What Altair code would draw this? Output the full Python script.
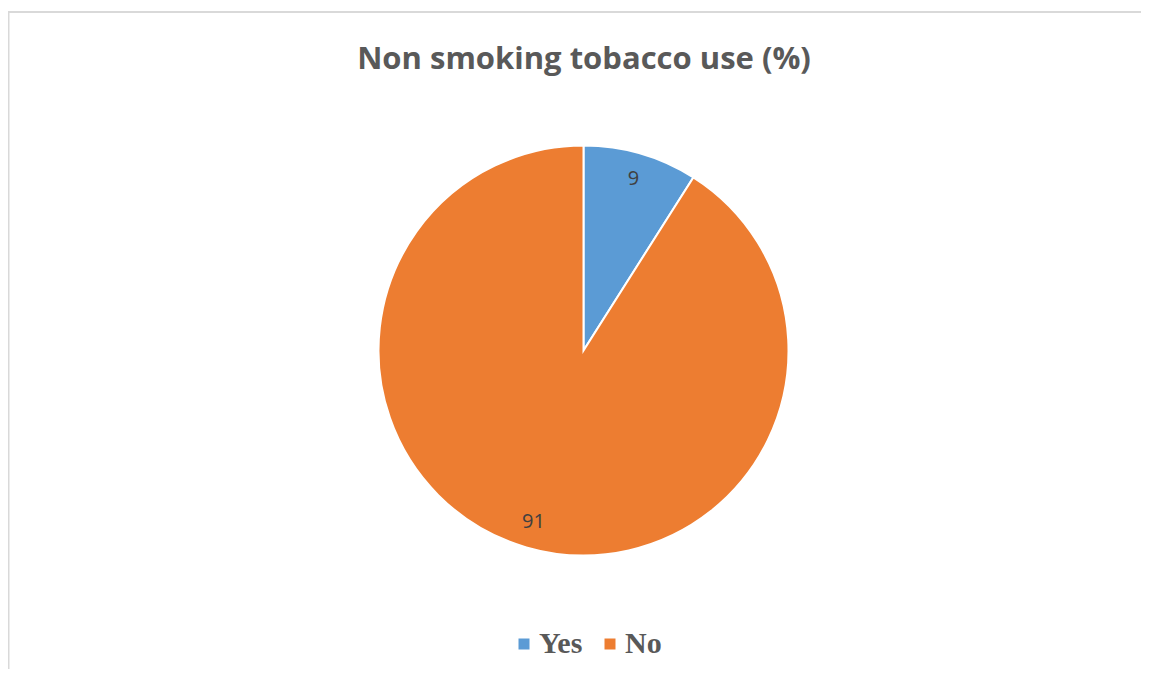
import altair as alt
import pandas as pd

title_text = "Non smoking tobacco use (%)"
categories = ["Yes", "No"]
values = [9, 91]
colors = ["#5B9BD5", "#ED7D31"]

df = pd.DataFrame({"category": categories, "value": values, "order": list(range(len(categories)))})

W, H = 1133, 661
CX, CY = 575.5, 342.5

base = alt.Chart(df).encode(
    theta=alt.Theta("value:Q", stack=True),
    order=alt.Order("order:Q"),
)

arcs = base.mark_arc(outerRadius=205, stroke="white", strokeWidth=2).encode(
    x=alt.value(CX),
    y=alt.value(CY),
    color=alt.Color(
        "category:N",
        scale=alt.Scale(domain=categories, range=colors),
        sort=categories,
        legend=alt.Legend(
            title=None,
            orient="none",
            legendX=501,
            legendY=621,
            direction="horizontal",
            symbolType="square",
            symbolSize=121,
            symbolStrokeWidth=0,
            labelFont="Liberation Serif",
            labelFontSize=30,
            labelFontWeight="bold",
            labelColor="#595959",
            labelOffset=0,
            columnPadding=12,
        ),
    ),
)

labels = base.mark_text(radius=179, fontSize=20, font="Open Sans", color="#404040").encode(
    x=alt.value(CX),
    y=alt.value(CY),
    text=alt.Text("value:Q"),
)

title = alt.Chart(pd.DataFrame({"t": [title_text]})).mark_text(
    font="Open Sans", fontSize=31, fontWeight="bold", color="#595959",
    align="center", baseline="alphabetic",
).encode(text="t:N", x=alt.value(576), y=alt.value(61))

frame_df = pd.DataFrame({"k": [0]})
left_rule = alt.Chart(frame_df).mark_rule(color="#d9d9d9", strokeWidth=2).encode(
    x=alt.value(0.5), y=alt.value(3), y2=alt.value(H)
)
top_rule = alt.Chart(frame_df).mark_rule(color="#d9d9d9", strokeWidth=2).encode(
    x=alt.value(0), x2=alt.value(W), y=alt.value(4)
)

chart = alt.layer(left_rule, top_rule, arcs, labels, title).properties(
    width=W, height=H, padding=0, autosize=alt.AutoSizeParams(type="none"), background="white"
).configure_view(strokeWidth=0, stroke="transparent")

chart.save("out.html", embed_options={"renderer": "svg", "actions": False})
